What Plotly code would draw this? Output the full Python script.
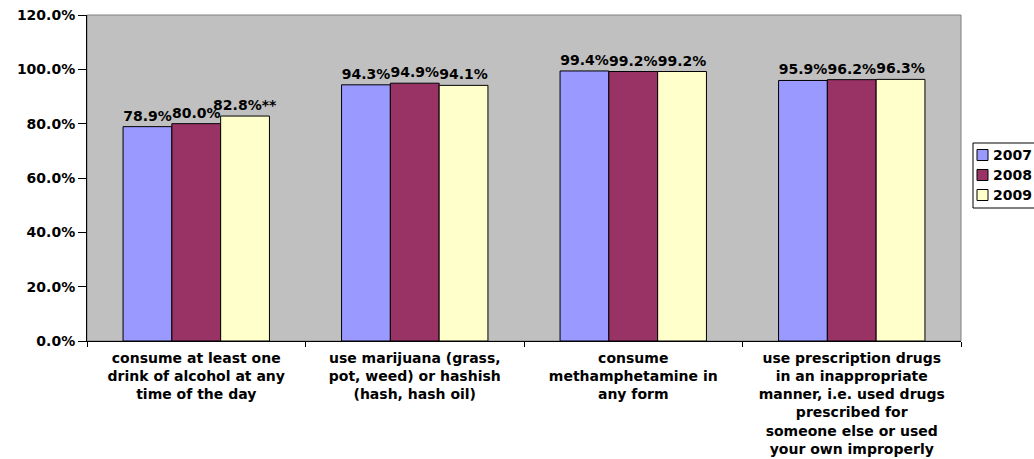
import plotly.graph_objects as go

categories = [
    "consume at least one<br>drink of alcohol at any<br>time of the day",
    "use marijuana (grass,<br>pot, weed) or hashish<br>(hash, hash oil)",
    "consume<br>methamphetamine in<br>any form",
    "use prescription drugs<br>in an inappropriate<br>manner, i.e. used drugs<br>prescribed for<br>someone else or used<br>your own improperly",
]
years = ["2007", "2008", "2009"]
values_2007 = [0.789, 0.943, 0.994, 0.959]
values_2008 = [0.800, 0.949, 0.992, 0.962]
values_2009 = [0.828, 0.941, 0.992, 0.963]
notes_2009 = ["**", "", "", ""]
colors = ["#9999FF", "#993366", "#FFFFCC"]

series = [values_2007, values_2008, values_2009]
notes = [["", "", "", ""], ["", "", "", ""], notes_2009]

FONT = "DejaVu Sans"
W, H = 1034, 459
ML, MR, MT, MB = 87, 73, 15, 118
PW, PH = W - ML - MR, H - MT - MB


def px_x(x):
    return (x - ML) / PW


def px_y(y):
    return (H - MB - y) / PH


fig = go.Figure()
for name, vals, nts, col in zip(years, series, notes, colors):
    fig.add_trace(go.Bar(
        name=name, x=categories, y=vals,
        marker=dict(color=col, line=dict(color="black", width=1)),
        text=[f"{v*100:.1f}%{n}" for v, n in zip(vals, nts)],
        textposition="outside", constraintext="none", cliponaxis=False,
        textfont=dict(family=FONT, size=14, color="black", weight="bold"),
        showlegend=False,
    ))

shapes = [dict(type="rect", xref="paper", yref="paper", x0=0, x1=1, y0=0, y1=1,
               line=dict(color="#808080", width=1), layer="below")]
annotations = []
# manual legend box (reference legend runs off the right edge)
shapes.append(dict(type="rect", xref="paper", yref="paper",
                   x0=px_x(973), x1=px_x(1040), y0=px_y(208), y1=px_y(143),
                   line=dict(color="black", width=1), fillcolor="white"))
for i, (name, col) in enumerate(zip(years, colors)):
    cy = 155 + 20 * i
    shapes.append(dict(type="rect", xref="paper", yref="paper",
                       x0=px_x(977), x1=px_x(988), y0=px_y(cy + 5.5), y1=px_y(cy - 5.5),
                       line=dict(color="black", width=1), fillcolor=col))
    annotations.append(dict(xref="paper", yref="paper", x=px_x(991), y=px_y(cy),
                            xanchor="left", yanchor="middle", showarrow=False,
                            text=name, font=dict(family=FONT, size=14, color="black", weight="bold")))

fig.update_layout(
    width=W, height=H,
    margin=dict(l=ML, r=MR, t=MT, b=MB, autoexpand=False),
    paper_bgcolor="white", plot_bgcolor="#C0C0C0",
    barmode="group", bargap=0.33, bargroupgap=0,
    font=dict(family=FONT, size=14, color="black", weight="bold"),
    showlegend=False,
    shapes=shapes, annotations=annotations,
)
fig.update_yaxes(range=[0, 1.2], dtick=0.2, tickformat=".1%", showgrid=False,
                 showline=True, linecolor="black", linewidth=1,
                 ticks="outside", ticklen=8, tickcolor="black",
                 tickfont=dict(family=FONT, size=14, color="black", weight="bold"),
                 zeroline=False, automargin=False)
fig.update_xaxes(showline=True, linecolor="black", linewidth=1,
                 ticks="outside", tickson="boundaries", ticklen=5, tickcolor="black",
                 tickfont=dict(family=FONT, size=14, color="black", weight="bold"),
                 tickangle=0, automargin=False, ticklabelstandoff=4)

fig.write_html("out.html")
